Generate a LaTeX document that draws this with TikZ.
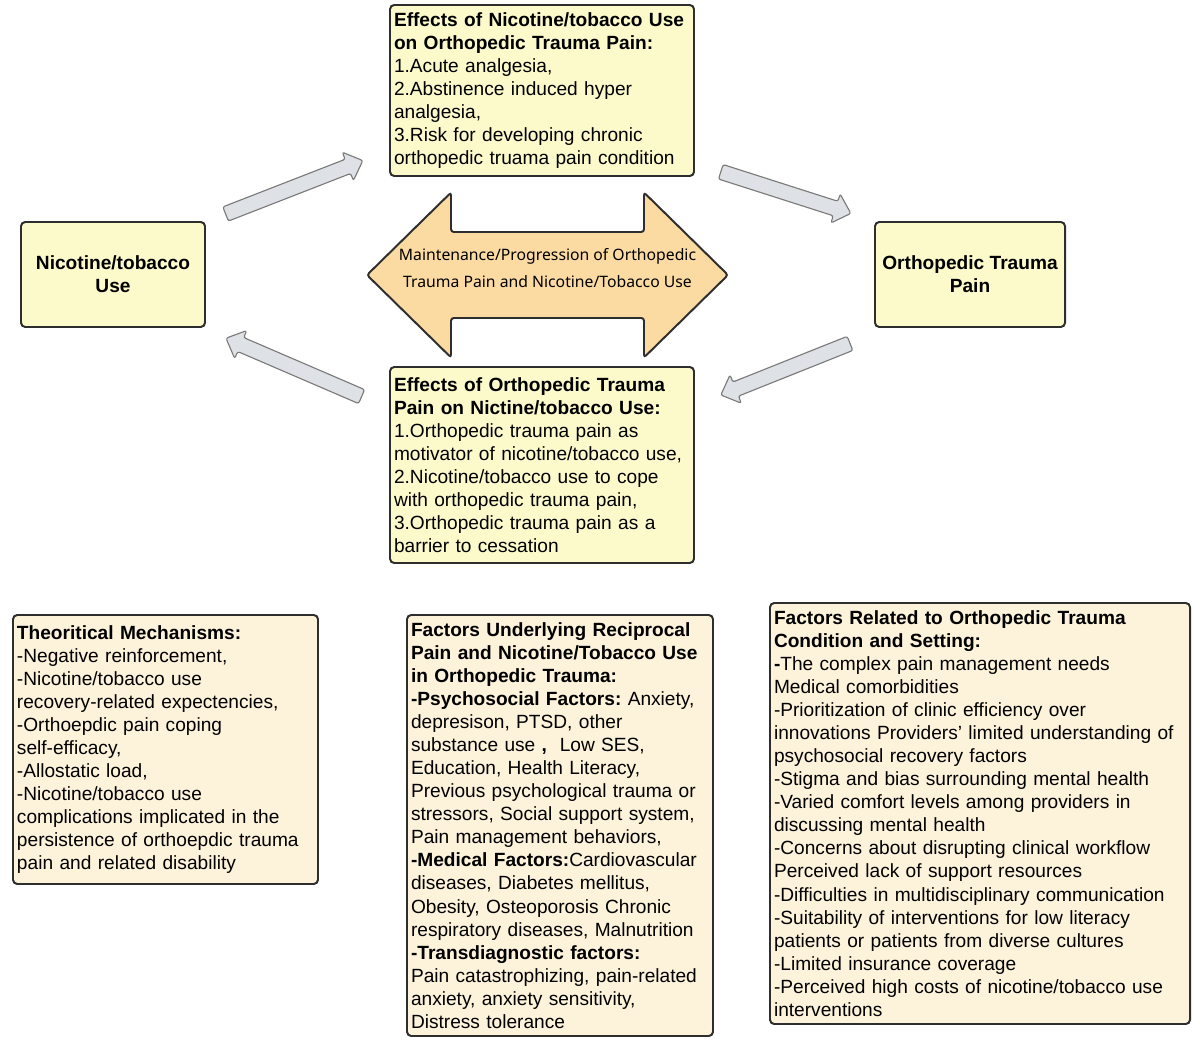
\documentclass[tikz,border=0pt]{standalone}
\usepackage{fontspec}
\setmainfont{Liberation Sans}
\newfontfamily\frecciafont{Noto Sans}
\usetikzlibrary{calc}

\definecolor{bordo}{HTML}{2E2E2E}
\definecolor{giallino}{HTML}{FCFACB}
\definecolor{cremino}{HTML}{FDF2DA}
\definecolor{arancio}{HTML}{FCDBA3}
\definecolor{grigino}{HTML}{DEE1E6}
\definecolor{grigiobordo}{HTML}{7A7A7A}

\newcommand{\testo}{\fontsize{13.6}{16.4}\selectfont}

% freccia grigia piena tra due coordinate
\newcommand{\frecciagrigia}[2]{%
  \coordinate (#1-b) at ($(#2)!0.4cm!(#1)$);
  \draw[freccia] ($(#1)!0.19cm!90:(#2)$) -- ($(#1-b)!0.19cm!90:(#2)$)
    -- ($(#1-b)!0.38cm!90:(#2)$) -- (#2)
    -- ($(#1-b)!0.38cm!-90:(#2)$) -- ($(#1-b)!0.19cm!-90:(#2)$)
    -- ($(#1)!0.19cm!-90:(#2)$) -- cycle;}

\begin{document}
\begin{tikzpicture}[font=\testo]

        % Stili dei riquadri
        \tikzstyle{box}=[draw=bordo, line width=1.4pt, rounded corners=3pt, inner xsep=0.1cm, inner ysep=0pt]
        \tikzstyle{giallo}=[box, fill=giallino]
        \tikzstyle{crema}=[box, fill=cremino, align=left]
        \tikzstyle{freccia}=[draw=grigiobordo, fill=grigino, line width=0.8pt, rounded corners=1.5pt]

        % Area del disegno
        \useasboundingbox (0,0) rectangle (30,26.225);

        % Riquadri del ciclo
        \node[giallo, font=\testo\bfseries, align=center, minimum width=4.6cm, minimum height=2.625cm] (nicotina) at (2.825,19.3625) {Nicotine/tobacco\\Use};
        \node[giallo, font=\testo\bfseries, align=center, minimum width=4.75cm, minimum height=2.625cm] (dolore) at (24.25,19.3625) {Orthopedic Trauma\\Pain};
        \node[giallo, align=left, text width=7.4cm, minimum height=4.275cm] (effettinicotina) at (13.55,23.9625) {\textbf{Effects of Nicotine/tobacco Use}\\
                \textbf{on Orthopedic Trauma Pain:}\\
                1.Acute analgesia,\\
                2.Abstinence induced hyper\\
                analgesia,\\
                3.Risk for developing chronic\\
                orthopedic truama pain condition};
        \node[giallo, align=left, text width=7.4cm, minimum height=4.9cm] (effettidolore) at (13.55,14.6) {\textbf{Effects of Orthopedic Trauma}\\
                \textbf{Pain on Nictine/tobacco Use:}\\
                1.Orthopedic trauma pain as\\
                motivator of nicotine/tobacco use,\\
                2.Nicotine/tobacco use to cope\\
                with orthopedic trauma pain,\\
                3.Orthopedic trauma pain as a\\
                barrier to cessation};

        % Freccia doppia centrale
        \coordinate (centro) at (13.6875,19.35);
        \draw[draw=bordo, fill=arancio, line width=1.4pt, rounded corners=2pt, shift={(centro)}]
            (-4.5125,0) -- (-2.4125,2.0625) -- (-2.4125,1.075) -- (2.4125,1.075) -- (2.4125,2.0625)
            -- (4.5125,0) -- (2.4125,-2.0625) -- (2.4125,-1.075) -- (-2.4125,-1.075) -- (-2.4125,-2.0625) -- cycle;
        \node[align=center, font=\frecciafont\fontsize{11.2}{19.2}\selectfont] (ciclo) at (13.6875,19.5125) {Maintenance/Progression of Orthopedic\\Trauma Pain and Nicotine/Tobacco Use};

        % Frecce grigie tra i riquadri
        \coordinate (f1a) at (5.64,20.875);
        \coordinate (f1b) at (9.07,22.21);
        \coordinate (f2a) at (18.02,21.93);
        \coordinate (f2b) at (21.27,20.89);
        \coordinate (f3a) at (21.25,17.64);
        \coordinate (f3b) at (18.02,16.35);
        \coordinate (f4a) at (9.04,16.31);
        \coordinate (f4b) at (5.65,17.77);
        \frecciagrigia{f1a}{f1b}
        \frecciagrigia{f2a}{f2b}
        \frecciagrigia{f3a}{f3b}
        \frecciagrigia{f4a}{f4b}

        % Riquadri in basso
        \node[crema, text width=7.425cm, minimum height=6.725cm] (meccanismi) at (4.1375,7.4875) {\textbf{Theoritical Mechanisms:}\\
                -Negative reinforcement,\\
                -Nicotine/tobacco use\\
                recovery-related expectencies,\\
                -Orthoepdic pain coping\\
                self-efficacy,\\
                -Allostatic load,\\
                -Nicotine/tobacco use\\
                complications implicated in the\\
                persistence of orthoepdic trauma\\
                pain and related disability};
        \node[crema, text width=7.45cm, minimum height=10.525cm] (fattori) at (14,5.5875) {\textbf{Factors Underlying Reciprocal}\\
                \textbf{Pain and Nicotine/Tobacco Use}\\
                \textbf{in Orthopedic Trauma:}\\
                \textbf{-Psychosocial Factors:}~Anxiety,\\
                depresison, PTSD, other\\
                substance use \textbf{,}\ \ Low SES,\\
                Education, Health Literacy,\\
                Previous psychological trauma or\\
                stressors, Social support system,\\
                Pain management behaviors,\\
                \textbf{-Medical Factors:}Cardiovascular\\
                diseases, Diabetes mellitus,\\
                Obesity, Osteoporosis Chronic\\
                respiratory diseases, Malnutrition\\
                \textbf{-Transdiagnostic factors:}\\
                Pain catastrophizing, pain-related\\
                anxiety, anxiety sensitivity,\\
                Distress tolerance};
        \node[crema, text width=10.3cm, minimum height=10.525cm] (contesto) at (24.5,5.8875) {\textbf{Factors Related to Orthopedic Trauma}\\
                \textbf{Condition and Setting:}\\
                \textbf{-}The complex pain management needs\\
                Medical comorbidities\\
                -Prioritization of clinic efficiency over\\
                innovations Providers’ limited understanding of\\
                psychosocial recovery factors\\
                -Stigma and bias surrounding mental health\\
                -Varied comfort levels among providers in\\
                discussing mental health\\
                -Concerns about disrupting clinical workflow\\
                Perceived lack of support resources\\
                -Difficulties in multidisciplinary communication\\
                -Suitability of interventions for low literacy\\
                patients or patients from diverse cultures\\
                -Limited insurance coverage\\
                -Perceived high costs of nicotine/tobacco use\\
                interventions};

\end{tikzpicture}
\end{document}
